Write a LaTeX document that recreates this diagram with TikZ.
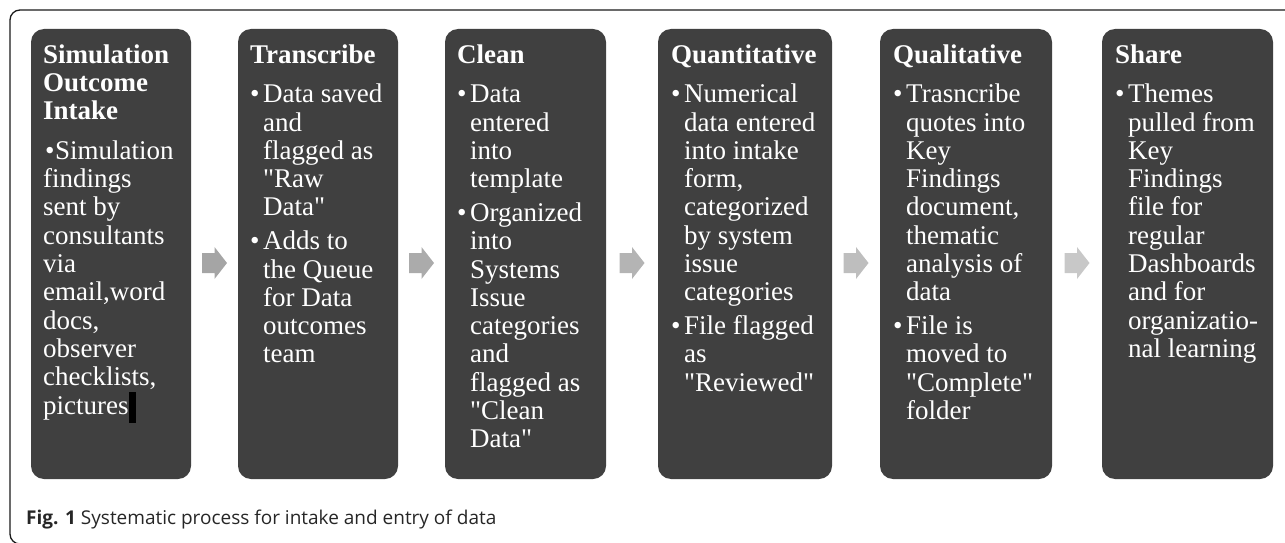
\documentclass[tikz,border=0pt]{standalone}
\usepackage{fontspec}
\setmainfont{Liberation Serif}[Ligatures=TeXOff]
\newfontfamily\capfont{Open Sans}
\usetikzlibrary{calc}
\definecolor{boxgray}{HTML}{404040}
\definecolor{framecol}{HTML}{1A1A1A}
\newcommand\bul{\makebox[13pt][l]{\textbullet}}
\newcommand\ind{\hspace*{13pt}}
\tikzset{
  stepbox/.style={fill=boxgray, draw=none, rounded corners=13pt, inner sep=0pt, minimum height=450pt},
  steptext/.style={anchor=north west, inner sep=0pt, align=left, text=white,
    font={\fontsize{27}{28.3}\selectfont}},
}
\begin{document}
\begin{tikzpicture}[x=1pt,y=1pt]
\useasboundingbox (0,0) rectangle (1285,542);
\clip (0,0) rectangle (1285,542);
% outer frame
\draw[framecol, line width=1.3pt, rounded corners=10pt] (1295,532) -- (10,532) -- (10,-2) -- (40,-2);
% boxes
\node[stepbox, minimum width=160pt] (b1) at (111,288) {};
\node[stepbox, minimum width=160pt] (b2) at (318,288) {};
\node[stepbox, minimum width=161pt] (b3) at (525.5,288) {};
\node[stepbox, minimum width=174pt] (b4) at (745,288) {};
\node[stepbox, minimum width=172pt] (b5) at (966,288) {};
\node[stepbox, minimum width=171pt] (b6) at (1187.5,288) {};
% texts
\node[steptext] (t1) at (43,499) {\rule{0pt}{20pt}\textbf{Simulation}\\\textbf{Outcome}\\\textbf{Intake}\\[11.2pt]
\makebox[12pt][l]{\hspace{2pt}\textbullet}Simulation\\findings\\sent by\\consultants\\via\\email,word\\docs,\\observer\\checklists,\\pictures\textcolor{black}{\rule[-9pt]{7pt}{31pt}}};
\node[steptext] (t2) at (250,499) {\rule{0pt}{20pt}\textbf{Transcribe}\\[11.2pt]
\bul Data saved\\\ind and\\\ind flagged as\\\ind "Raw\\\ind Data"\\[5.5pt]
\bul Adds to\\\ind the Queue\\\ind for Data\\\ind outcomes\\\ind team};
\node[steptext] (t3) at (457,499) {\rule{0pt}{20pt}\textbf{Clean}\\[11.2pt]
\bul Data\\\ind entered\\\ind into\\\ind template\\[5.5pt]
\bul Organized\\\ind into\\\ind Systems\\\ind Issue\\\ind categories\\\ind and\\\ind flagged as\\\ind "Clean\\\ind Data"};
\node[steptext] (t4) at (671,499) {\rule{0pt}{20pt}\textbf{Quantitative}\\[11.2pt]
\bul Numerical\\\ind data entered\\\ind into intake\\\ind form,\\\ind categorized\\\ind by system\\\ind issue\\\ind categories\\[5.5pt]
\bul File flagged\\\ind as\\\ind "Reviewed"};
\node[steptext] (t5) at (893,499) {\rule{0pt}{20pt}\textbf{Qualitative}\\[11.2pt]
\bul Trasncribe\\\ind quotes into\\\ind Key\\\ind Findings\\\ind document,\\\ind thematic\\\ind analysis of\\\ind data\\[5.5pt]
\bul File is\\\ind moved to\\\ind "Complete"\\\ind folder};
\node[steptext] (t6) at (1115,499) {\rule{0pt}{20pt}\textbf{Share}\\[11.2pt]
\bul Themes\\\ind pulled from\\\ind Key\\\ind Findings\\\ind file for\\\ind regular\\\ind Dashboards\\\ind and for\\\ind organizatio-\\\ind nal learning};
% arrows between boxes
\foreach \a/\b/\c in {b1/b2/A5A5A5, b2/b3/ABABAB, b3/b4/B4B4B4, b4/b5/BEBEBE, b5/b6/C8C8C8}{
  \definecolor{arrcol}{HTML}{\c}
  \coordinate (m) at ($(\a.east)!0.5!(\b.west)+(0,-9)$);
  \fill[arrcol] ([shift={(-12.5,10)}]m) -- ([shift={(0,10)}]m) -- ([shift={(0,16)}]m) -- ([shift={(12.5,0)}]m)
     -- ([shift={(0,-16)}]m) -- ([shift={(0,-10)}]m) -- ([shift={(-12.5,-10)}]m) -- cycle;
}
% caption
\node[anchor=base west, inner sep=0pt, font={\capfont\fontsize{19}{22}\selectfont}, text=black!85] (cap) at (26,18)
  {\textbf{Fig. 1} Systematic process for intake and entry of data};
\end{tikzpicture}
\end{document}
